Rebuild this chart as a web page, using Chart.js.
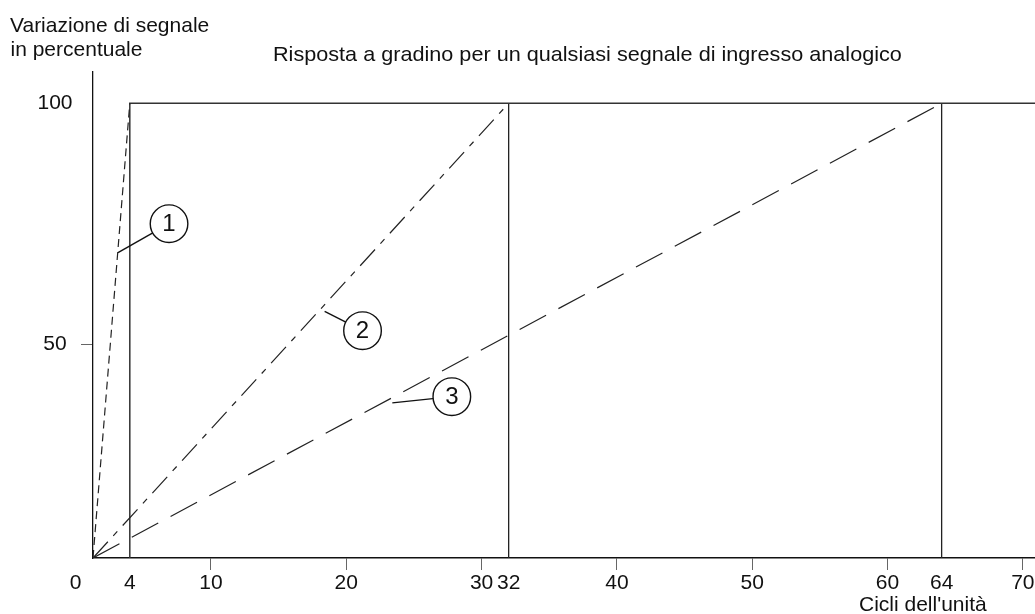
<!DOCTYPE html>
<html>
<head>
<meta charset="utf-8">
<script src="https://cdn.jsdelivr.net/npm/chart.js@4"></script>
<style>
  html, body { margin: 0; padding: 0; background: #fff; overflow: hidden; }
  #wrap { width: 1035px; height: 614px; }
  canvas { display: block; }
</style>
</head>
<body>
<div id="wrap"><canvas id="c" width="1035" height="614"></canvas></div>
<script>
// Axis extents (cycles / percent); the axes meet where all ramps begin
const xRange = [1.28, 70.9];
const yRange = [5.6, 106.5];

// Tick labels and which of them get a tick mark
const xTickLabels = [0, 4, 10, 20, 30, 32, 40, 50, 60, 64, 70];
const xTickMarks = [10, 20, 30, 40, 50, 60, 70];
const yTickLabels = [50, 100];
const yTickMarks = [50];

// Step response: final value and cycles needed to reach it for curves 1, 2, 3
const stepLevel = 100;
const settleCycles = [4, 32, 64];
const rampDashes = [[8, 5], [22, 8, 6, 8], [30, 14]];

// Numbered callouts: point on the curve and centre of the numbered circle
const calloutNumbers = ['1', '2', '3'];
const calloutAnchors = [[3.13, 69.0], [18.4, 56.8], [23.4, 37.8]];
const calloutCenters = [[6.9, 75.0], [21.2, 52.8], [27.8, 39.1]];

const FONT = '"Liberation Sans", Arial, Helvetica, sans-serif';
const INK = '#111';

const origin = { x: xRange[0], y: yRange[0] };

const datasets = [];

// numbered circles (drawn on top of everything else)
datasets.push({
  label: 'callouts',
  data: calloutCenters.map(([x, y]) => ({ x, y })),
  showLine: false,
  pointRadius: 18.8,
  pointHoverRadius: 18.8,
  pointBackgroundColor: '#fff',
  pointBorderColor: INK,
  pointBorderWidth: 1.4,
  order: -2
});

// leader lines from curve to circle
calloutAnchors.forEach((a, i) => {
  datasets.push({
    label: 'leader ' + calloutNumbers[i],
    data: [{ x: a[0], y: a[1] }, { x: calloutCenters[i][0], y: calloutCenters[i][1] }],
    showLine: true,
    borderColor: INK,
    borderWidth: 1.4,
    pointRadius: 0,
    order: -1
  });
});

// ramps of the three curves
settleCycles.forEach((c, i) => {
  datasets.push({
    label: 'curve ' + calloutNumbers[i],
    data: [{ x: origin.x, y: origin.y }, { x: c, y: stepLevel }],
    showLine: true,
    borderColor: '#222',
    borderWidth: 1.2,
    borderDash: rampDashes[i],
    pointRadius: 0
  });
});

// final value line and the vertical markers at the settle times
datasets.push({
  label: 'step',
  data: [{ x: settleCycles[0], y: yRange[0] }, { x: settleCycles[0], y: stepLevel }, { x: xRange[1], y: stepLevel }],
  showLine: true,
  borderColor: '#333',
  borderWidth: 1.5,
  pointRadius: 0
});
settleCycles.slice(1).forEach(c => {
  datasets.push({
    label: 'settle ' + c,
    data: [{ x: c, y: yRange[0] }, { x: c, y: stepLevel }],
    showLine: true,
    borderColor: '#222',
    borderWidth: 1.3,
    pointRadius: 0
  });
});

function drawText(ctx, str, x, y, size, sx) {
  ctx.save();
  ctx.font = size + 'px ' + FONT;
  ctx.fillStyle = INK;
  ctx.textAlign = 'left';
  ctx.textBaseline = 'alphabetic';
  ctx.translate(x, y);
  ctx.scale(sx, 1);
  ctx.fillText(str, 0, 0);
  ctx.restore();
}

const textPlugin = {
  id: 'texts',
  afterDraw(chart) {
    const ctx = chart.ctx;
    drawText(ctx, 'Variazione di segnale', 10, 32, 21, 1.0);
    drawText(ctx, 'in percentuale', 10.5, 56, 21, 1.0);
    drawText(ctx, 'Risposta a gradino per un qualsiasi segnale di ingresso analogico', 273, 61, 21, 1.03);
    drawText(ctx, "Cicli dell'unità", 859, 611, 21, 1.0);

    // numbers inside the callout circles
    const meta = chart.getDatasetMeta(0);
    ctx.save();
    ctx.font = '24px ' + FONT;
    ctx.fillStyle = INK;
    ctx.textAlign = 'center';
    ctx.textBaseline = 'middle';
    meta.data.forEach((pt, i) => ctx.fillText(calloutNumbers[i], pt.x, pt.y + 1));
    ctx.restore();
  }
};

const tickMarkColor = (marks) => (c) => (c.tick && marks.includes(c.tick.value)) ? '#666' : 'rgba(0,0,0,0)';

new Chart(document.getElementById('c'), {
  type: 'scatter',
  data: { datasets },
  options: {
    responsive: false,
    devicePixelRatio: 1,
    animation: false,
    events: [],
    layout: { autoPadding: false, padding: { top: 72, right: 0, bottom: 0, left: 0 } },
    plugins: { legend: { display: false }, tooltip: { enabled: false }, title: { display: false } },
    scales: {
      x: {
        type: 'linear',
        min: xRange[0],
        max: xRange[1],
        afterBuildTicks: s => { s.ticks = xTickLabels.map(v => ({ value: v })); },
        afterFit: s => { s.height = 56; s.paddingLeft = 0; s.paddingRight = 0; },
        ticks: {
          autoSkip: false,
          maxRotation: 0,
          padding: 1,
          color: INK,
          font: { family: FONT, size: 21 },
          callback: v => String(v)
        },
        grid: { drawOnChartArea: false, drawTicks: true, tickLength: 12, tickWidth: 1, tickColor: tickMarkColor(xTickMarks) },
        border: { color: INK, width: 1.5 }
      },
      y: {
        type: 'linear',
        min: yRange[0],
        max: yRange[1],
        afterBuildTicks: s => { s.ticks = yTickLabels.map(v => ({ value: v })); },
        afterFit: s => { s.width = 93; s.paddingTop = 0; s.paddingBottom = 0; },
        ticks: {
          crossAlign: 'center',
          padding: 8.5,
          color: INK,
          font: { family: FONT, size: 21 },
          callback: v => String(v)
        },
        grid: { drawOnChartArea: false, drawTicks: true, tickLength: 12, tickWidth: 1, tickColor: tickMarkColor(yTickMarks) },
        border: { color: INK, width: 1.3 }
      }
    }
  },
  plugins: [textPlugin]
});
</script>
</body>
</html>
